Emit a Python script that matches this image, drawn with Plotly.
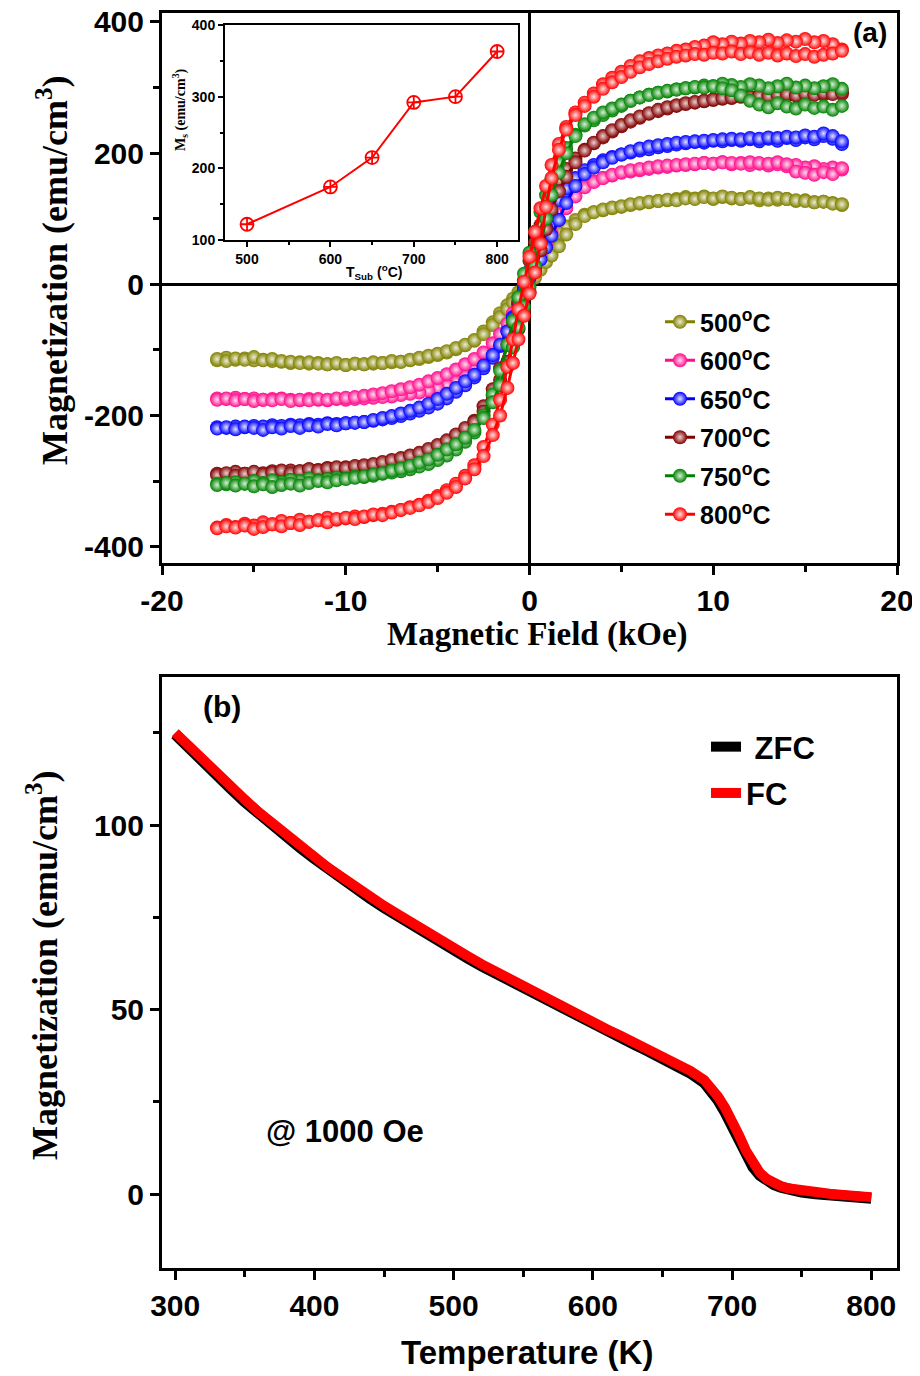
import plotly.graph_objects as go

# ---------------- Panel (a): M-H loops ----------------
FIELD_DOWN = [17, 16.5, 16, 15.5, 15, 14.5, 14, 13.5, 13, 12.5, 12, 11.5, 11, 10.5, 10, 9.5, 9, 8.5, 8, 7.5,
              7, 6.5, 6, 5.5, 5, 4.5, 4, 3.5, 3,
              2.5, 2, 1.6, 1.2, 0.9, 0.6, 0.3, 0, -0.3, -0.6, -0.9, -1.2, -1.6, -2, -2.5,
              -3, -3.5, -4, -4.5, -5, -5.5, -6, -6.5, -7, -7.5, -8, -8.5, -9, -9.5, -10, -10.5, -11, -11.5, -12, -12.5,
              -13, -13.5, -14, -14.5, -15, -15.5, -16, -16.5, -17]
FIELD_UP = [-17, -16.5, -16, -15.5, -15, -14.5, -14, -13.5, -13, -12.5, -12, -11.5, -11, -10.5, -10, -9.5, -9, -8.5, -8, -7.5,
            -7, -6.5, -6, -5.5, -5, -4.5, -4, -3.5, -3,
            -2.5, -2, -1.6, -1.2, -0.9, -0.6, -0.3, 0, 0.3, 0.6, 0.9, 1.2, 1.6, 2, 2.5,
            3, 3.5, 4, 4.5, 5, 5.5, 6, 6.5, 7, 7.5, 8, 8.5, 9, 9.5, 10, 10.5, 11, 11.5, 12, 12.5,
            13, 13.5, 14, 14.5, 15, 15.5, 16, 16.5, 17]

M500_DOWN = ([121, 124, 126, 125, 128, 127, 130, 129, 131, 128, 132, 130, 131, 133, 130, 134, 131, 133, 130, 128,
              127, 125, 123, 121, 118, 116, 113, 110, 106]
             + [98, 88, 78, 66, 55, 42, 28, 14, 0, -12, -22, -32, -44, -58, -72]
             + [-86, -93, -99, -104, -108, -111, -114, -116, -118, -119, -120, -121, -122, -121, -123, -121, -122, -120, -121, -119,
                -120, -118, -117, -115, -116, -113, -115, -112, -116])
M500_UP = ([-114, -117, -113, -115, -111, -116, -114, -117, -118, -120, -119, -121, -122, -120, -123, -121, -122, -119, -120, -117,
            -118, -115, -112, -109, -106, -102, -97, -92, -85]
           + [-76, -62, -50, -38, -28, -18, -6, 4, 10, 22, 34, 44, 58, 76, 92]
           + [104, 110, 114, 117, 119, 122, 124, 126, 127, 129, 128, 131, 130, 133, 131, 134, 132, 130, 133, 131,
              129, 132, 130, 128, 127, 125, 126, 123, 122])

M600_DOWN = ([175, 178, 176, 180, 178, 182, 180, 183, 181, 184, 182, 185, 183, 186, 184, 185, 183, 182, 181, 179,
              178, 176, 174, 172, 170, 166, 162, 157, 152]
             + [142, 128, 112, 94, 76, 56, 36, 14, -8, -30, -50, -68, -86, -102, -118]
             + [-130, -140, -148, -154, -158, -162, -165, -167, -169, -171, -172, -173, -174, -175, -176, -175, -177, -176, -175, -177,
                -176, -174, -175, -176, -174, -175, -173, -175, -174])
M600_UP = ([-176, -174, -177, -175, -178, -176, -177, -175, -178, -176, -177, -175, -176, -174, -173, -172, -170, -168, -166, -163,
            -160, -157, -153, -148, -143, -137, -130, -122, -114]
           + [-104, -90, -76, -60, -44, -28, -10, 8, 24, 42, 60, 78, 98, 116, 134]
           + [148, 156, 162, 167, 171, 174, 176, 178, 180, 181, 182, 183, 184, 185, 184, 186, 185, 184, 186, 185,
              184, 186, 183, 172, 170, 167, 171, 168, 177])

M650_DOWN = ([214, 222, 226, 221, 224, 220, 223, 219, 222, 218, 221, 219, 220, 218, 219, 216, 217, 215, 213, 211,
              209, 206, 204, 201, 198, 194, 189, 182, 174]
             + [162, 146, 128, 108, 88, 66, 44, 20, -4, -28, -50, -72, -94, -112, -128]
             + [-142, -154, -164, -174, -182, -188, -193, -197, -201, -204, -206, -208, -210, -211, -212, -213, -212, -214, -213, -215,
                -214, -216, -215, -217, -216, -218, -217, -219, -218])
M650_UP = ([-220, -218, -221, -217, -219, -222, -218, -220, -216, -219, -215, -217, -213, -215, -212, -211, -210, -207, -204, -201,
            -197, -193, -188, -182, -175, -167, -158, -148, -138]
           + [-124, -108, -92, -72, -52, -32, -10, 10, 24, 38, 56, 74, 98, 124, 150]
           + [168, 178, 186, 193, 198, 203, 207, 210, 212, 214, 216, 217, 218, 219, 220, 221, 222, 221, 223, 222,
              224, 223, 225, 224, 227, 225, 230, 226, 218])

M700_DOWN = ([290, 292, 289, 291, 287, 290, 288, 286, 289, 287, 285, 286, 284, 283, 281, 279, 277, 275, 272, 268,
              264, 260, 254, 248, 241, 233, 224, 215, 205]
             + [192, 176, 158, 136, 114, 90, 64, 36, 6, -26, -58, -92, -128, -160, -186]
             + [-208, -222, -234, -243, -250, -256, -261, -265, -268, -271, -273, -275, -277, -278, -279, -281, -280, -283, -282, -285,
                -284, -286, -285, -288, -287, -289, -286, -290, -289])
M700_UP = ([-291, -288, -292, -289, -286, -290, -287, -284, -288, -285, -282, -284, -281, -279, -280, -277, -276, -274, -271, -268,
            -265, -261, -257, -251, -245, -238, -229, -219, -210]
           + [-194, -170, -146, -118, -94, -68, -40, -12, 20, 52, 84, 114, 142, 164, 186]
           + [204, 216, 226, 235, 243, 250, 256, 261, 266, 270, 273, 276, 278, 280, 282, 284, 285, 287, 286, 288,
              287, 289, 290, 288, 291, 289, 292, 290, 293])

M750_DOWN = ([298, 305, 302, 299, 303, 300, 306, 302, 299, 303, 305, 301, 304, 306, 302, 303, 300, 299, 297, 294,
              292, 289, 285, 280, 272, 265, 258, 250, 242]
             + [228, 208, 186, 160, 136, 110, 80, 48, 16, -20, -56, -92, -132, -168, -200]
             + [-226, -240, -252, -261, -268, -274, -278, -282, -285, -287, -289, -292, -294, -293, -296, -295, -297, -299, -296, -300,
                -298, -302, -299, -303, -300, -304, -302, -305, -304])
M750_UP = ([-306, -303, -307, -304, -308, -305, -309, -306, -304, -307, -303, -300, -302, -299, -297, -295, -293, -290, -288, -284,
            -281, -277, -272, -267, -260, -252, -244, -234, -222]
           + [-204, -180, -154, -124, -96, -66, -34, -4, 28, 62, 100, 136, 170, 200, 226]
           + [244, 254, 262, 268, 274, 280, 285, 289, 292, 295, 297, 299, 301, 300, 302, 299, 296, 288, 280, 274,
              270, 276, 271, 268, 274, 269, 271, 266, 272])

M800_DOWN = ([358, 366, 371, 369, 374, 370, 372, 368, 373, 369, 371, 367, 370, 366, 369, 364, 362, 358, 356, 352,
              349, 345, 340, 333, 324, 315, 305, 291, 277]
             + [262, 240, 214, 182, 150, 116, 80, 42, 4, -38, -84, -126, -176, -214, -248]
             + [-276, -292, -304, -314, -323, -330, -336, -340, -344, -347, -350, -352, -355, -354, -357, -359, -356, -360, -362, -359,
                -364, -361, -366, -363, -368, -365, -370, -367, -371])
M800_UP = ([-372, -369, -371, -368, -373, -370, -366, -369, -364, -367, -362, -360, -363, -358, -356, -358, -354, -351, -352, -348,
            -344, -341, -337, -332, -326, -318, -309, -296, -282]
           + [-262, -230, -200, -158, -120, -84, -48, -14, 18, 62, 118, 162, 205, 236, 258]
           + [272, 286, 298, 308, 316, 324, 331, 336, 340, 344, 347, 349, 351, 350, 353, 352, 355, 351, 354, 350,
              353, 349, 352, 348, 351, 347, 350, 352, 356])

SERIES_NAMES = ["500<sup>o</sup>C", "600<sup>o</sup>C", "650<sup>o</sup>C",
                "700<sup>o</sup>C", "750<sup>o</sup>C", "800<sup>o</sup>C"]
SERIES_DOWN = [M500_DOWN, M600_DOWN, M650_DOWN, M700_DOWN, M750_DOWN, M800_DOWN]
SERIES_UP = [M500_UP, M600_UP, M650_UP, M700_UP, M750_UP, M800_UP]
SERIES_COLORS = ["#808000", "#ff0a8c", "#0000ff", "#800000", "#008000", "#ff0000"]
SERIES_LIGHT = ["#ececd4", "#ffdcee", "#e0e0ff", "#ecd0d0", "#d4f0d4", "#ffe0e0"]

H_TICKS = [-20, -10, 0, 10, 20]
H_TICKTEXT = ["-20", "-10", "0", "10", "20"]
MA_TICKS = [-400, -200, 0, 200, 400]
MA_TICKTEXT = ["-400", "-200", "0", "200", "400"]

# ---------------- Inset: Ms vs substrate temperature ----------------
TSUB = [500, 600, 650, 700, 750, 800]
MS = [122, 174, 215, 292, 300, 363]

# ---------------- Panel (b): ZFC / FC ----------------
TEMP = [300, 310, 320, 330, 340, 350, 360, 370, 380, 390, 400, 410, 420, 430, 440, 450, 460, 470, 480, 490,
        500, 510, 520, 530, 540, 550, 560, 570, 580, 590, 600, 610, 620, 630, 640, 650, 660, 670,
        680, 685, 690, 695, 700, 705, 710, 715, 720, 725, 730, 735, 740,
        750, 760, 770, 780, 790, 800]
M_FC = [125.0, 121.2, 117.6, 114.0, 110.3, 106.9, 103.5, 100.4, 97.2, 94.3,
        91.4, 88.4, 85.8, 83.0, 80.6, 78.1, 75.8, 73.4, 71.2, 68.9,
        66.6, 64.5, 62.3, 60.3, 58.2, 56.2, 54.1, 52.3, 50.2, 48.4,
        46.5, 44.7, 42.9, 41.0, 39.2, 37.4, 35.5, 33.4,
        30.9, 29.0, 26.4, 23.4, 20.0, 16.0, 11.8, 8.3, 5.8, 4.1, 3.0, 2.2, 1.6,
        0.9, 0.4, 0.1, -0.2, -0.3, -0.8]
M_ZFC = [124.6, 120.7, 117.0, 113.4, 109.8, 106.3, 103.0, 99.8, 96.7, 93.8,
         90.9, 88.0, 85.2, 82.5, 80.1, 77.6, 75.2, 72.9, 70.7, 68.4,
         66.1, 64.0, 61.8, 59.8, 57.7, 55.7, 53.7, 51.8, 49.7, 47.9,
         46.0, 44.2, 42.4, 40.5, 38.7, 36.9, 35.0, 32.8,
         30.2, 28.1, 25.4, 22.2, 18.6, 14.6, 10.6, 7.4, 5.1, 3.6, 2.6, 1.9, 1.3,
         0.6, 0.1, -0.2, -0.5, -0.7, -1.1]

SANS = "Liberation Sans, Arial, sans-serif"
SERIF = "Liberation Serif, Times New Roman, serif"

fig = go.Figure()

for name, down, up, col, light in zip(SERIES_NAMES, SERIES_DOWN, SERIES_UP, SERIES_COLORS, SERIES_LIGHT):
    mk = dict(size=14, color=col, gradient=dict(type="radial", color=light), line=dict(width=0))
    fig.add_trace(go.Scatter(x=FIELD_DOWN, y=down, mode="lines+markers", name=name, legendgroup=name,
                             line=dict(color=col, width=3), marker=mk, xaxis="x", yaxis="y", legend="legend"))
    fig.add_trace(go.Scatter(x=FIELD_UP, y=up, mode="lines+markers", name=name, legendgroup=name, showlegend=False,
                             line=dict(color=col, width=3), marker=mk, xaxis="x", yaxis="y"))

fig.add_trace(go.Scatter(x=TSUB, y=MS, mode="lines+markers", showlegend=False,
                         line=dict(color="#ff0000", width=2),
                         marker=dict(symbol="circle-cross-open", size=13, color="#ff0000", line=dict(width=1.8)),
                         xaxis="x3", yaxis="y3"))

fig.add_trace(go.Scatter(x=TEMP, y=M_ZFC, mode="lines", name=" ZFC", legendgroup="zfc",
                         line=dict(color="black", width=11), xaxis="x2", yaxis="y2", legend="legend2"))
fig.add_trace(go.Scatter(x=TEMP, y=M_FC, mode="lines", name="FC", legendgroup="fc",
                         line=dict(color="#ff0000", width=10), xaxis="x2", yaxis="y2", legend="legend2"))

# the page body adds an 8 px offset; positions below are given in screenshot pixels
OFF = 8


def W(px):
    return (px - OFF) / 920.0


def H(py):
    return 1 - (py - OFF) / 1376.0


axis_common = dict(showgrid=False, showline=True, linecolor="black", linewidth=3, mirror=True,
                   automargin=False, ticklabeloverflow="allow",
                   ticks="outside", ticklen=9, tickwidth=3, tickcolor="black",
                   tickfont=dict(family=SANS, size=30, color="black", weight="bold"))

inset_common = dict(showgrid=False, showline=True, linecolor="black", linewidth=2, mirror=True, zeroline=False,
                    automargin=False, ticklabeloverflow="allow",
                    ticks="outside", ticklen=5, tickwidth=2, tickcolor="black",
                    tickfont=dict(family=SANS, size=14, color="black", weight="bold"))

fig.update_layout(
    template="none",
    width=920, height=1376, margin=dict(l=0, r=0, t=0, b=0, pad=0, autoexpand=False),
    paper_bgcolor="white", plot_bgcolor="white",
    xaxis=dict(domain=[W(162), W(897)], anchor="y", range=[-20, 20],
               tickmode="array", tickvals=H_TICKS, ticktext=H_TICKTEXT,
               zeroline=True, zerolinecolor="black", zerolinewidth=3,
               minor=dict(dtick=5, tick0=0, ticks="outside", ticklen=6, tickwidth=3, tickcolor="black"),
               **axis_common),
    yaxis=dict(domain=[H(563), H(13)], anchor="x", range=[-425, 413.7],
               tickmode="array", tickvals=MA_TICKS, ticktext=MA_TICKTEXT,
               zeroline=True, zerolinecolor="black", zerolinewidth=3,
               minor=dict(dtick=100, tick0=0, ticks="outside", ticklen=6, tickwidth=3, tickcolor="black"),
               **axis_common),
    xaxis2=dict(domain=[W(162), W(897)], anchor="y2", range=[290.5, 818.5], dtick=100, tick0=0,
                zeroline=False,
                minor=dict(dtick=50, ticks="outside", ticklen=6, tickwidth=3, tickcolor="black"),
                **axis_common),
    yaxis2=dict(domain=[H(1268), H(677)], anchor="x2", range=[-20, 140.1], dtick=50, tick0=0,
                zeroline=False,
                minor=dict(dtick=25, ticks="outside", ticklen=6, tickwidth=3, tickcolor="black"),
                **axis_common),
    xaxis3=dict(domain=[W(225), W(518)], anchor="y3", range=[473.6, 825], dtick=100, tick0=0,
                minor=dict(dtick=50, ticks="outside", ticklen=3, tickwidth=2, tickcolor="black"),
                **inset_common),
    yaxis3=dict(domain=[H(240), H(25)], anchor="x3", range=[100, 400], dtick=100, tick0=0,
                minor=dict(dtick=50, ticks="outside", ticklen=3, tickwidth=2, tickcolor="black"),
                **inset_common),
    legend=dict(x=W(660), y=H(299), xanchor="left", yanchor="top", bgcolor="rgba(0,0,0,0)",
                font=dict(family=SANS, size=25, color="black", weight="bold"),
                tracegroupgap=3, itemsizing="trace"),
    legend2=dict(x=W(706), y=H(720), xanchor="left", yanchor="top", bgcolor="rgba(0,0,0,0)",
                 font=dict(family=SANS, size=31, color="black", weight="bold"),
                 tracegroupgap=3),
    showlegend=True,
)

ann = [
    dict(x=W(52), y=H(270), text="<b>Magnetization (emu/cm<sup>3</sup>)</b>", textangle=-90,
         font=dict(family=SERIF, size=36, color="black")),
    dict(x=W(537), y=H(634), text="<b>Magnetic Field (kOe)</b>",
         font=dict(family=SERIF, size=33, color="black")),
    dict(x=W(42), y=H(965), text="<b>Magnetization (emu/cm<sup>3</sup>)</b>", textangle=-90,
         font=dict(family=SERIF, size=36, color="black")),
    dict(x=W(527), y=H(1352), text="<b>Temperature (K)</b>",
         font=dict(family=SANS, size=33, color="black")),
    dict(x=W(870), y=H(32), text="<b>(a)</b>", font=dict(family=SANS, size=28, color="black")),
    dict(x=W(222), y=H(706), text="<b>(b)</b>", font=dict(family=SANS, size=30, color="black")),
    dict(x=W(345), y=H(1131), text="<b>@ 1000 Oe</b>", font=dict(family=SANS, size=31, color="black")),
    dict(x=W(180), y=H(110), text="<b>M<sub>s</sub> (emu/cm<sup>3</sup>)</b>", textangle=-90,
         font=dict(family=SERIF, size=14, color="black")),
    dict(x=W(374), y=H(272), text="<b>T<sub>Sub</sub> (<sup>o</sup>C)</b>",
         font=dict(family=SANS, size=14, color="black")),
]
for a in ann:
    a.update(xref="paper", yref="paper", showarrow=False, xanchor="center", yanchor="middle")
fig.update_layout(annotations=ann)

fig.write_html("out.html")
